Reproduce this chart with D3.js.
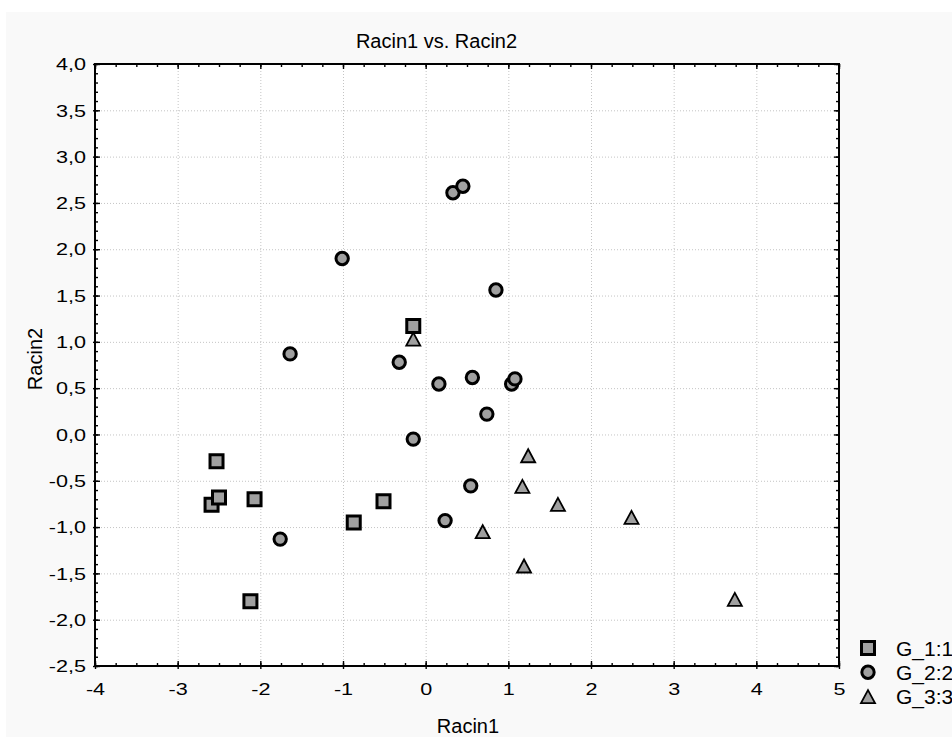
<!DOCTYPE html>
<head>
<meta charset="utf-8">
<style>

body { margin: 0; }

svg text {
  font-family: "Liberation Sans", Arial, sans-serif;
  fill: #000;
}

.grid line {
  stroke: #c4c4c4;
  stroke-dasharray: 1,2;
}

.grid path { display: none; }

.axis path { display: none; }

.axis line { stroke: #000; stroke-width: 1.4; }

.ticklab { font-size: 16px; }

</style>
</head>
<body>
<svg width="952" height="738"></svg>
<script src="https://d3js.org/d3.v7.min.js"></script>
<script>

// group 1 (squares)
var g1_x = [-2.59, -2.50, -2.53, -2.07, -0.51, -0.87, -0.15, -2.12];
var g1_y = [-0.76, -0.68, -0.29, -0.70, -0.72, -0.95, 1.17, -1.80];

// group 2 (circles)
var g2_x = [0.85, -1.64, -0.32, 0.16, 0.565, 1.04, 1.08, 0.74, -0.15, 0.545, 0.235, -1.76, 0.33, 0.45, -1.01];
var g2_y = [1.56, 0.87, 0.78, 0.545, 0.615, 0.545, 0.60, 0.22, -0.05, -0.555, -0.93, -1.13, 2.61, 2.68, 1.90];

// group 3 (triangles)
var g3_x = [-0.15, 1.24, 1.17, 1.60, 0.69, 1.19, 2.49, 3.74];
var g3_y = [1.03, -0.23, -0.56, -0.755, -1.05, -1.42, -0.895, -1.78];

var groupNames = ["G_1:1", "G_2:2", "G_3:3"];

var xTicks = [-4, -3, -2, -1, 0, 1, 2, 3, 4, 5];
var yTicks = [-2.5, -2.0, -1.5, -1.0, -0.5, 0.0, 0.5, 1.0, 1.5, 2.0, 2.5, 3.0, 3.5, 4.0];

// note: "top" is taken by window.top, so use other names
var svg = d3.select("svg"),
    mLeft = 95, mTop = 64,
    w = 744, h = 602;

var loc = d3.formatLocale({decimal: ",", thousands: ".", grouping: [3], currency: ["", ""], minus: "-"});
var fmtY = loc.format(".1f"),
    fmtX = loc.format("d");

var x = d3.scaleLinear().domain([-4, 5]).range([0, w]);
var y = d3.scaleLinear().domain([-2.5, 4]).range([h, 0]);

// grey panel behind everything
svg.append("rect").attr("width", 952).attr("height", 738).attr("fill", "#fff");
svg.append("rect").attr("x", 6).attr("y", 12).attr("width", 946).attr("height", 725).attr("fill", "#f9f9f9");

var g = svg.append("g").attr("transform", "translate(" + mLeft + "," + mTop + ")");
g.append("rect").attr("width", w).attr("height", h).attr("fill", "#fff");

// dotted grid
g.append("g").attr("class", "grid")
    .attr("transform", "translate(0," + h + ")")
    .call(d3.axisBottom(x).tickValues(xTicks).tickSize(-h).tickFormat(""));
g.append("g").attr("class", "grid")
    .call(d3.axisLeft(y).tickValues(yTicks).tickSize(-w).tickFormat(""));

// minor ticks, all four sides
var xMinor = d3.range(-4, 5.001, 0.25),
    yMinor = d3.range(-25, 41).map(function(d) { return d / 10; });

g.append("g").attr("class", "axis").attr("transform", "translate(0," + h + ")")
    .call(d3.axisBottom(x).tickValues(xMinor).tickSize(-3).tickFormat(""));
g.append("g").attr("class", "axis")
    .call(d3.axisTop(x).tickValues(xMinor).tickSize(-3).tickFormat(""));
g.append("g").attr("class", "axis")
    .call(d3.axisLeft(y).tickValues(yMinor).tickSize(-3).tickFormat(""));
g.append("g").attr("class", "axis").attr("transform", "translate(" + w + ",0)")
    .call(d3.axisRight(y).tickValues(yMinor).tickSize(-3).tickFormat(""));

// major ticks with labels
var xAx = g.append("g").attr("class", "axis").attr("transform", "translate(0," + h + ")")
    .call(d3.axisBottom(x).tickValues(xTicks).tickSize(-5).tickFormat(fmtX));
xAx.selectAll("line").attr("y1", 3);
xAx.selectAll("text").attr("class", "ticklab").attr("y", 0).attr("dy", 0)
    .attr("transform", "translate(0,29) scale(1.35,1)");

var yAx = g.append("g").attr("class", "axis")
    .call(d3.axisLeft(y).tickValues(yTicks).tickSize(-5).tickFormat(fmtY));
yAx.selectAll("line").attr("x1", -2);
yAx.selectAll("text").attr("class", "ticklab").attr("x", 0).attr("dy", "0.36em")
    .attr("transform", "translate(-9,0) scale(1.35,1)");

g.append("g").attr("class", "axis")
    .call(d3.axisTop(x).tickValues(xTicks).tickSize(-5).tickFormat(""));
g.append("g").attr("class", "axis").attr("transform", "translate(" + w + ",0)")
    .call(d3.axisRight(y).tickValues(yTicks).tickSize(-5).tickFormat(""));

// frame
g.append("rect").attr("width", w).attr("height", h)
    .attr("fill", "none").attr("stroke", "#000").attr("stroke-width", 2);

// triangle centred on its bounding box
var tri = {
  draw: function(ctx, size) {
    var s = Math.sqrt(size);
    ctx.moveTo(0, -s / 2);
    ctx.lineTo(s * 0.54, s / 2);
    ctx.lineTo(-s * 0.54, s / 2);
    ctx.closePath();
  }
};

var shapes = [
  {xs: g1_x, ys: g1_y, type: d3.symbolSquare, size: 169, sw: 3},
  {xs: g2_x, ys: g2_y, type: d3.symbolCircle, size: 120, sw: 3},
  {xs: g3_x, ys: g3_y, type: tri, size: 169, sw: 1.8}
];

shapes.forEach(function(s) {
  var pts = s.xs.map(function(v, i) { return [v, s.ys[i]]; });
  g.selectAll(null)
      .data(pts)
    .enter().append("path")
      .attr("d", d3.symbol().type(s.type).size(s.size))
      .attr("transform", function(d) { return "translate(" + x(d[0]) + "," + y(d[1]) + ")"; })
      .attr("fill", "#a0a0a0")
      .attr("stroke", "#000")
      .attr("stroke-width", s.sw);
});

// titles
svg.append("text").attr("x", 436.5).attr("y", 48)
    .attr("text-anchor", "middle").style("font-size", "20px")
    .text("Racin1 vs. Racin2");
svg.append("text").attr("x", 468).attr("y", 733)
    .attr("text-anchor", "middle").style("font-size", "20px")
    .text("Racin1");
svg.append("text").attr("transform", "translate(41.5,359) rotate(-90)")
    .attr("text-anchor", "middle").style("font-size", "20px")
    .text("Racin2");

// legend
var leg = svg.selectAll(".leg")
    .data(groupNames)
  .enter().append("g")
    .attr("class", "leg")
    .attr("transform", function(d, i) { return "translate(868," + (648 + i * 24.3) + ")"; });

leg.append("path")
    .attr("d", function(d, i) { return d3.symbol().type(shapes[i].type).size(shapes[i].size)(); })
    .attr("fill", "#a0a0a0")
    .attr("stroke", "#000")
    .attr("stroke-width", function(d, i) { return shapes[i].sw; });

leg.append("text")
    .attr("x", 28).attr("dy", "0.36em")
    .style("font-size", "21px")
    .text(function(d) { return d; });

</script>
</body>
</html>
